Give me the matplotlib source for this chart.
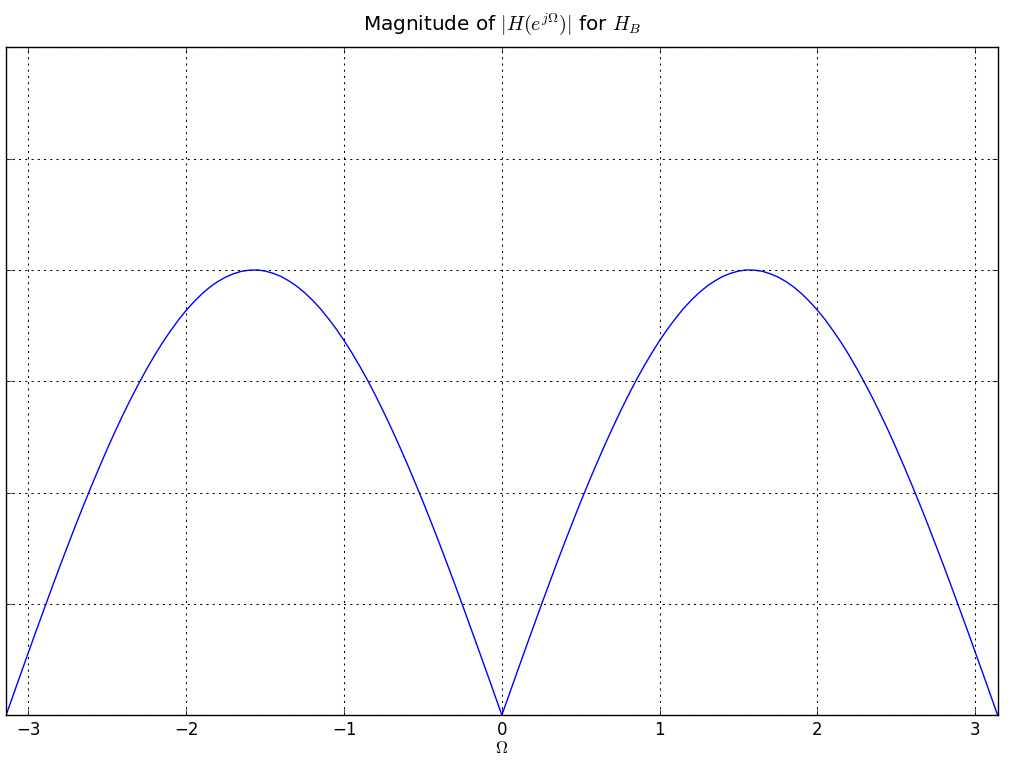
import numpy as np
import matplotlib
matplotlib.use('Agg')
import matplotlib.pyplot as plt

plt.style.use('classic')

# samples of |H| (0.05 steps on the right half, mirrored on the left)
omega_pos = [0.0, 0.05, 0.1, 0.15, 0.2, 0.25, 0.3, 0.35, 0.4, 0.45, 0.5, 0.55, 0.6, 0.65, 0.7, 0.75,
             0.8, 0.85, 0.9, 0.95, 1.0, 1.05, 1.1, 1.15, 1.2, 1.25, 1.3, 1.35, 1.4, 1.45, 1.5, 1.55,
             1.6, 1.65, 1.7, 1.75, 1.8, 1.85, 1.9, 1.95, 2.0, 2.05, 2.1, 2.15, 2.2, 2.25, 2.3, 2.35,
             2.4, 2.45, 2.5, 2.55, 2.6, 2.65, 2.7, 2.75, 2.8, 2.85, 2.9, 2.95, 3.0, 3.05, 3.1, np.pi]
mag_pos = [0.000, 0.100, 0.200, 0.299, 0.397, 0.495, 0.591, 0.686, 0.779, 0.870, 0.959, 1.045,
           1.129, 1.210, 1.288, 1.363, 1.435, 1.503, 1.567, 1.627, 1.683, 1.735, 1.782, 1.826,
           1.864, 1.898, 1.927, 1.951, 1.971, 1.985, 1.995, 2.000, 1.999, 1.994, 1.983, 1.968,
           1.948, 1.923, 1.893, 1.858, 1.819, 1.775, 1.726, 1.674, 1.617, 1.556, 1.491, 1.423,
           1.351, 1.276, 1.197, 1.115, 1.031, 0.944, 0.855, 0.763, 0.670, 0.575, 0.478, 0.381,
           0.282, 0.183, 0.083, 0.000]
omega_neg = [-w for w in omega_pos[::-1]]
mag_neg = mag_pos[::-1]

omega = np.array(omega_neg[:-1] + omega_pos)
mag = np.array(mag_neg[:-1] + mag_pos)

x_ticks = [-3, -2, -1, 0, 1, 2, 3]
y_ticks = [0, 0.5, 1.0, 1.5, 2.0, 2.5, 3.0]

fig = plt.figure(figsize=(10.18, 7.64), dpi=100, facecolor='white')
ax = fig.add_axes([0.006, 0.064, 0.974, 0.874])
ax.plot(omega, mag, color='blue', linewidth=1)
ax.set_xlim(-np.pi, np.pi)
ax.set_ylim(0, 3)
ax.set_xticks(x_ticks)
ax.set_yticks(y_ticks)
ax.set_yticklabels([])
ax.grid(True, color='black', linewidth=0.75, linestyle=(0, (1.5, 3)))
ax.set_xlabel(r'$\Omega$', labelpad=0)
ax.set_title(r'Magnitude of $|H(e^{j\Omega})|$ for $H_B$', y=1.016)

plt.savefig('out.png', dpi=100, facecolor='white')
